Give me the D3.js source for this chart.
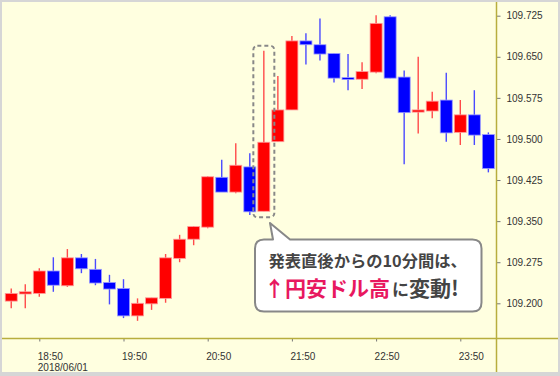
<!DOCTYPE html>
<html>
<head>
<meta charset="utf-8">
<script src="https://cdn.jsdelivr.net/npm/d3@7"></script>
<style>
    body { margin: 0; background: #d6d6d6; }
    svg { display: block; }
</style>
</head>
<body>
<div id="graph-container"></div>
<script>
const WIDTH = 560,
    HEIGHT = 376;

// 10-minute candles, USD/JPY, 2018/06/01
const times = [
    '18:30', '18:40', '18:50', '19:00', '19:10', '19:20', '19:30', '19:40', '19:50', '20:00',
    '20:10', '20:20', '20:30', '20:40', '20:50', '21:00', '21:10', '21:20', '21:30', '21:40',
    '21:50', '22:00', '22:10', '22:20', '22:30', '22:40', '22:50', '23:00', '23:10', '23:20',
    '23:30', '23:40', '23:50', '00:00', '00:10',
];
const open = [
    109.204, 109.217, 109.218, 109.259, 109.232, 109.283, 109.262, 109.238, 109.227, 109.177,
    109.199, 109.209, 109.282, 109.317, 109.339, 109.430, 109.403, 109.449, 109.368, 109.495,
    109.553, 109.679, 109.672, 109.656, 109.612, 109.609, 109.622, 109.723, 109.613, 109.549,
    109.551, 109.571, 109.512, 109.544, 109.508,
];
const high = [
    109.227, 109.235, 109.264, 109.284, 109.299, 109.290, 109.281, 109.252, 109.244, 109.209,
    109.210, 109.290, 109.325, 109.341, 109.432, 109.462, 109.492, 109.474, 109.661, 109.615,
    109.688, 109.693, 109.720, 109.656, 109.655, 109.640, 109.726, 109.726, 109.625, 109.650,
    109.586, 109.621, 109.571, 109.589, 109.512,
];
const low = [
    109.191, 109.191, 109.212, 109.221, 109.230, 109.255, 109.233, 109.198, 109.173, 109.168,
    109.188, 109.201, 109.275, 109.306, 109.337, 109.403, 109.401, 109.361, 109.368, 109.495,
    109.553, 109.636, 109.643, 109.603, 109.589, 109.591, 109.620, 109.611, 109.454, 109.510,
    109.538, 109.495, 109.489, 109.489, 109.439,
];
const close = [
    109.218, 109.221, 109.259, 109.233, 109.283, 109.263, 109.237, 109.226, 109.177, 109.200,
    109.210, 109.283, 109.317, 109.340, 109.431, 109.403, 109.452, 109.367, 109.494, 109.553,
    109.679, 109.672, 109.655, 109.611, 109.609, 109.623, 109.711, 109.611, 109.548, 109.553,
    109.569, 109.511, 109.544, 109.507, 109.446,
];

const yTicks = [109.200, 109.275, 109.350, 109.425, 109.500, 109.575, 109.650, 109.725];
const xTicks = ['18:50', '19:50', '20:50', '21:50', '22:50', '23:50'];
const dateLabel = '2018/06/01';
const highlightTime = '21:30';

const parse = d3.timeParse('%Y-%m-%d %H:%M');
const toDate = (t) => parse((+t.slice(0, 2) < 12 ? '2018-06-02 ' : '2018-06-01 ') + t);

const data = times.map((t, i) => ({
    date: toDate(t),
    open: open[i],
    high: high[i],
    low: low[i],
    close: close[i],
}));

const plotRight = 496.5,
    plotBottom = 338.5;

const xScale = d3.scaleTime()
    .domain([toDate('18:50'), toDate('23:50')])
    .range([39.3, 460.3]);

const yScale = d3.scaleLinear()
    .domain([109.200, 109.725])
    .range([303.3, 15.7]);

const axisColor = '#b8ae3e';
const up = '#ff0000', down = '#0000ff';

const svg = d3.select('#graph-container').append('svg')
    .attr('width', WIDTH)
    .attr('height', HEIGHT);

svg.append('rect')
    .attr('x', 2).attr('y', 2)
    .attr('width', WIDTH - 4).attr('height', HEIGHT - 6)
    .attr('fill', '#ffffe0');

/////////////////////// Axes /////////////////////////////

const yAxis = svg.append('g')
    .attr('transform', `translate(${plotRight}, 0)`)
    .call(d3.axisRight(yScale).tickValues(yTicks).tickFormat(d3.format('.3f')).tickSize(4).tickPadding(6));
yAxis.select('.domain').remove();
yAxis.selectAll('line').attr('stroke', '#777');
yAxis.selectAll('text')
    .attr('fill', '#333')
    .style('font-family', '"Liberation Sans", Arial, sans-serif')
    .style('font-size', '10px');

const xAxis = svg.append('g')
    .attr('transform', `translate(0, ${plotBottom})`)
    .call(d3.axisBottom(xScale).tickValues(xTicks.map(toDate)).tickSize(3).tickFormat(''));
xAxis.select('.domain').remove();
xAxis.selectAll('line').attr('stroke', '#777');

svg.append('g')
    .selectAll('text')
    .data(xTicks)
    .join('text')
    .attr('x', (d) => xScale(toDate(d)) - 1.5)
    .attr('y', 359.5)
    .attr('fill', '#333')
    .style('font-family', '"Liberation Sans", Arial, sans-serif')
    .style('font-size', '10px')
    .text((d) => d);

svg.append('text')
    .attr('x', xScale(toDate(xTicks[0])) - 1.5)
    .attr('y', 370.5)
    .attr('fill', '#333')
    .style('font-family', '"Liberation Sans", Arial, sans-serif')
    .style('font-size', '10px')
    .text(dateLabel);

svg.append('line')
    .attr('x1', plotRight).attr('x2', plotRight)
    .attr('y1', 2).attr('y2', HEIGHT - 4)
    .attr('stroke', axisColor).attr('stroke-width', 1.5);

svg.append('line')
    .attr('x1', 2).attr('x2', WIDTH - 2)
    .attr('y1', plotBottom).attr('y2', plotBottom)
    .attr('stroke', axisColor).attr('stroke-width', 1.5);

/////////////////////// Candles /////////////////////////////

const bodyW = 12;
const candles = svg.append('g');

candles.selectAll('line')
    .data(data)
    .join('line')
    .attr('x1', (d) => xScale(d.date))
    .attr('x2', (d) => xScale(d.date))
    .attr('y1', (d) => yScale(d.high))
    .attr('y2', (d) => yScale(d.low))
    .attr('stroke', (d) => d.close >= d.open ? '#ff4a4a' : '#4a4aff')
    .attr('stroke-width', 1.4);

candles.selectAll('rect')
    .data(data)
    .join('rect')
    .attr('x', (d) => xScale(d.date) - bodyW / 2)
    .attr('y', (d) => yScale(Math.max(d.open, d.close)))
    .attr('width', bodyW)
    .attr('height', (d) => Math.max(2, Math.abs(yScale(d.open) - yScale(d.close))))
    .attr('fill', (d) => d.close >= d.open ? up : down)
    .attr('stroke', (d) => d.close >= d.open ? '#ff9a9a' : '#9a9aff')
    .attr('stroke-width', 0.8);

/////////////////////// Callout /////////////////////////////

const hl = data.find((d) => +d.date === +toDate(highlightTime));
svg.append('rect')
    .attr('x', xScale(hl.date) - 10.5)
    .attr('y', yScale(hl.high) - 5)
    .attr('width', 21)
    .attr('height', yScale(hl.low) - yScale(hl.high) + 11)
    .attr('rx', 4)
    .attr('fill', 'none')
    .attr('stroke', '#888')
    .attr('stroke-width', 2)
    .attr('stroke-dasharray', '4 3');

const bx = 255, by = 239.5, bw = 226.5, bh = 72, r = 9;
svg.append('path')
    .attr('d', `M${bx + r},${by} L273,${by} L270,223 L290,${by} L${bx + bw - r},${by}
        Q${bx + bw},${by} ${bx + bw},${by + r} L${bx + bw},${by + bh - r}
        Q${bx + bw},${by + bh} ${bx + bw - r},${by + bh} L${bx + r},${by + bh}
        Q${bx},${by + bh} ${bx},${by + bh - r} L${bx},${by + r} Q${bx},${by} ${bx + r},${by} Z`)
    .attr('fill', '#ffffff')
    .attr('stroke', '#888')
    .attr('stroke-width', 2)
    .attr('stroke-linejoin', 'round');

const cjk = '"Noto Sans CJK JP", "Noto Sans", sans-serif';
svg.append('text')
    .attr('x', 268.5)
    .attr('y', 267)
    .attr('fill', '#444')
    .style('font-family', cjk)
    .style('font-size', '16.3px')
    .style('font-weight', 600)
    .text('発表直後からの10分間は、');

const line2 = svg.append('text')
    .attr('x', 264)
    .attr('y', 296)
    .style('font-family', cjk)
    .style('font-weight', 700);
line2.append('tspan').attr('fill', '#e8185f').style('font-size', '21px').text('↑');
line2.append('tspan').attr('fill', '#e8185f').style('font-size', '21px').text('円安ドル高');
line2.append('tspan').attr('dx', 2).attr('fill', '#444').style('font-size', '17px').style('font-weight', 600).text('に');
line2.append('tspan').attr('fill', '#444').style('font-size', '21px').text('変動!');
</script>
</body>
</html>
